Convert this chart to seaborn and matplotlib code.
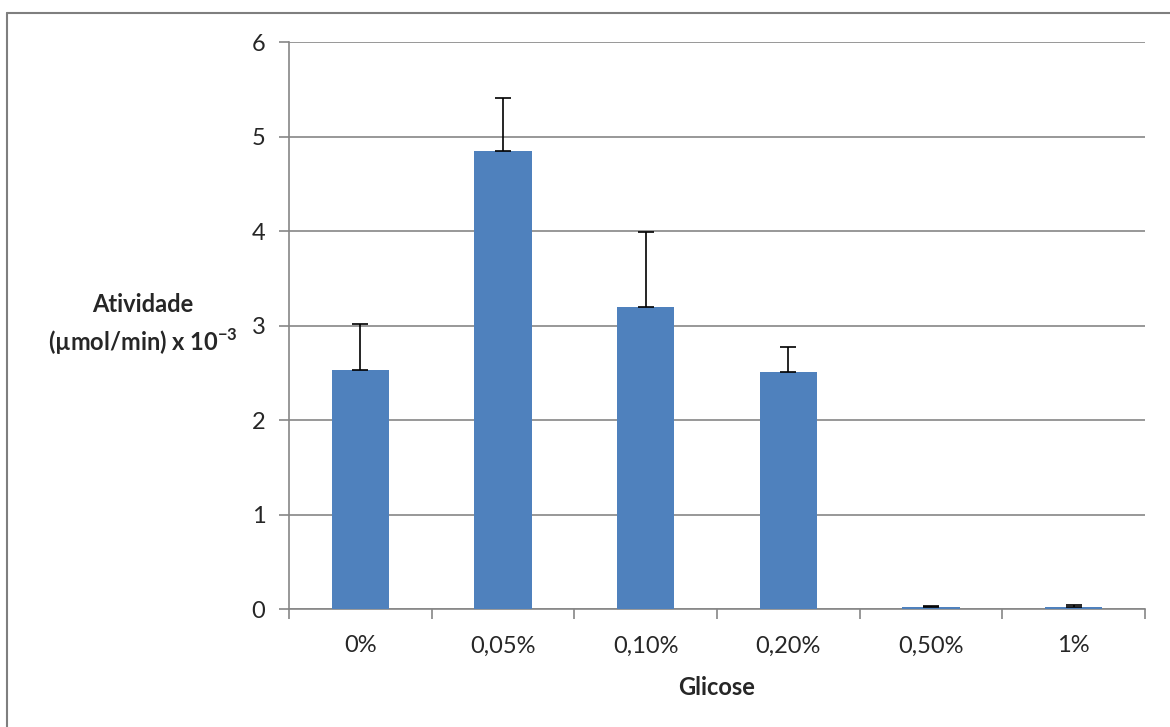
"""Atividade enzimática vs concentração de glicose (bar chart, Excel style)."""

import matplotlib.pyplot as plt
from matplotlib.lines import Line2D
import numpy as np
import seaborn as sns

categories = ["0%", "0,05%", "0,10%", "0,20%", "0,50%", "1%"]
atividade = [2.53, 4.85, 3.20, 2.51, 0.02, 0.02]
erro = [0.49, 0.56, 0.79, 0.26, 0.01, 0.02]
y_ticks = [0, 1, 2, 3, 4, 5, 6]

BAR_COLOR = "#4F81BD"
GRID_COLOR = "#868686"

sns.set_theme(style="white")
plt.rcParams["font.family"] = ["Lato", "DejaVu Sans"]
plt.rcParams["mathtext.fontset"] = "custom"
plt.rcParams["mathtext.rm"] = "Lato"
plt.rcParams["mathtext.bf"] = "Lato:bold"

fig = plt.figure(figsize=(11.7, 7.27), dpi=100)
ax = fig.add_axes([0.247, 0.1623, 0.7316, 0.7799])

sns.barplot(x=categories, y=atividade, color=BAR_COLOR, width=0.4,
            saturation=1, linewidth=0, ax=ax, zorder=3)

pos = np.arange(len(categories))
ax.errorbar(pos, atividade, yerr=[np.zeros(len(erro)), erro], fmt="none",
            ecolor="black", elinewidth=1.2, capsize=6, capthick=1.2, zorder=4)

ax.set_ylim(0, 6)
ax.set_xlim(-0.5, len(categories) - 0.5)
ax.set_yticks(y_ticks)
ax.set_yticklabels([str(t) for t in y_ticks], fontsize=17)
ax.yaxis.grid(True, color=GRID_COLOR, linewidth=1.2, zorder=0)
ax.set_axisbelow(True)

# category labels centred, ticks between categories
ax.set_xticks(pos)
ax.set_xticklabels(categories, fontsize=17)
ax.set_xticks(np.arange(-0.5, len(categories)), minor=True)
ax.tick_params(axis="x", which="major", length=0, pad=19)
ax.tick_params(axis="x", which="minor", length=7, width=1.2, color=GRID_COLOR,
               direction="out", bottom=True)
ax.tick_params(axis="y", which="major", length=7, width=1.2, color=GRID_COLOR,
               direction="out", left=True, pad=10)

for side in ["top", "right"]:
    ax.spines[side].set_visible(False)
for side in ["left", "bottom"]:
    ax.spines[side].set_color(GRID_COLOR)
    ax.spines[side].set_linewidth(1.2)

ax.set_xlabel("Glicose", fontsize=17, fontweight="bold", labelpad=14)
ax.set_ylabel("")
fig.text(0.122, 0.553, "Atividade\n(µmol/min) x 10$^{\\mathbf{-3}}$",
         ha="center", va="center", fontsize=17, fontweight="bold",
         linespacing=1.4)

# chart area border (only top and left visible in the crop)
fig.add_artist(Line2D([0.006, 1.0], [0.982, 0.982], color="#7F7F7F",
                      linewidth=1.5, transform=fig.transFigure))
fig.add_artist(Line2D([0.006, 0.006], [0.0, 0.982], color="#7F7F7F",
                      linewidth=1.5, transform=fig.transFigure))

fig.savefig("out.png", dpi=100)
plt.close(fig)
